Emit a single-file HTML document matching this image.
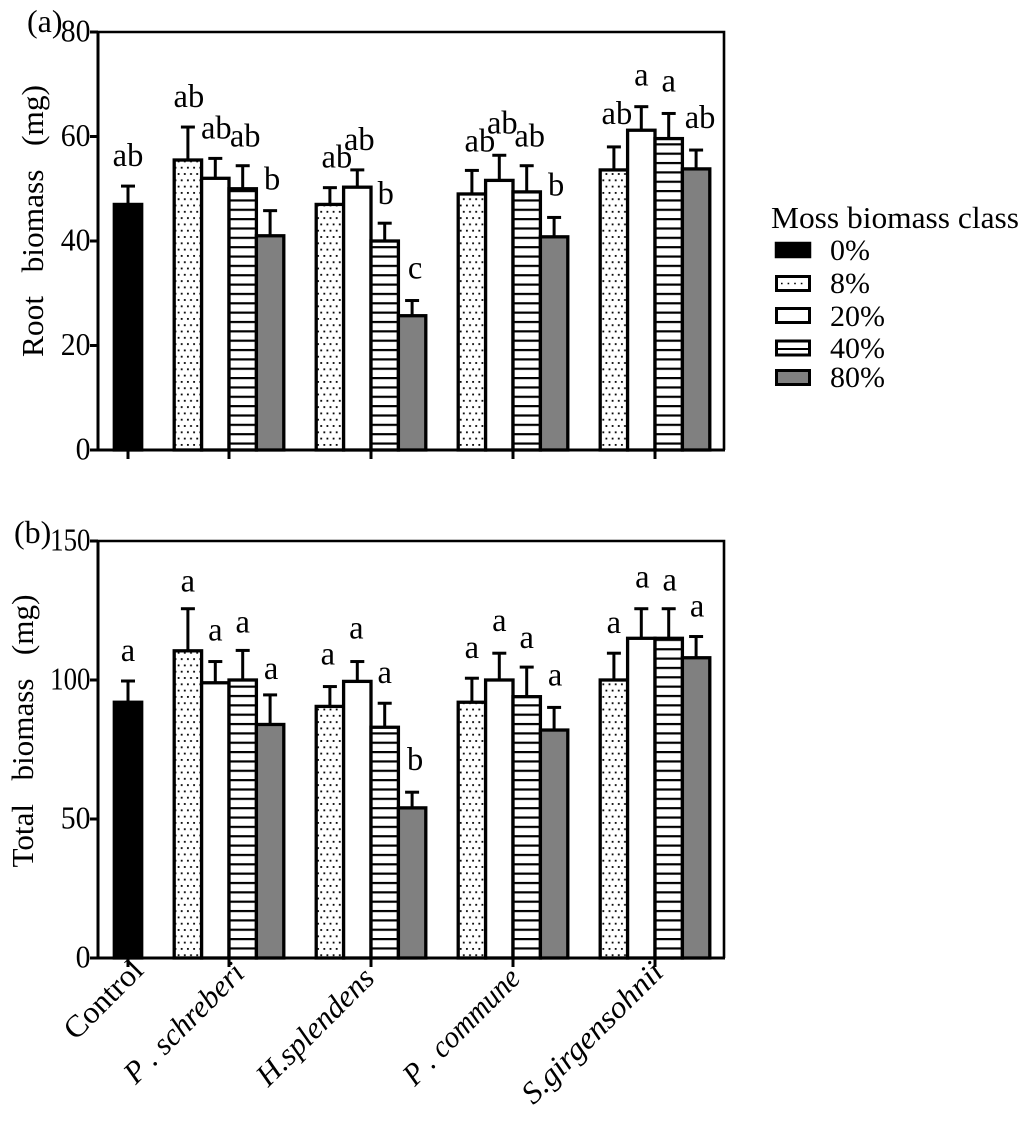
<!DOCTYPE html>
<html lang="en">
<head>
<meta charset="utf-8">
<title>Root and total biomass by moss biomass class</title>
<style>
html,body{margin:0;padding:0;background:#fff;}
svg{display:block;}
text{font-family:"Liberation Serif",serif;fill:#000;white-space:pre;}
</style>
</head>
<body>
<svg id="chart" xmlns="http://www.w3.org/2000/svg" width="1024" height="1123" viewBox="0 0 1024 1123">
  <defs>
    <pattern id="dots" patternUnits="userSpaceOnUse" width="6.2" height="12.6" x="0" y="2">
      <rect width="6.2" height="12.6" fill="#fff"/>
      <rect x="1" y="1" width="1.8" height="1.8" fill="#000"/>
      <rect x="4.1" y="7.3" width="1.8" height="1.8" fill="#000"/>
    </pattern>
    <pattern id="hatch" patternUnits="userSpaceOnUse" width="10" height="9.35" x="0" y="3">
      <rect width="10" height="9.35" fill="#fff"/>
      <rect y="0" width="10" height="2.2" fill="#000"/>
    </pattern>
  </defs>
  <g id="layer"></g>
  <g>
    <text x="771" y="228" font-size="31" textLength="248" lengthAdjust="spacingAndGlyphs">Moss biomass class</text>
    <rect x="776" y="243" width="34" height="14" fill="#000" stroke="#000" stroke-width="2.5"/>
    <text x="830" y="260" font-size="30">0%</text>
    <rect x="776.5" y="276.5" width="33" height="14" fill="#fff" stroke="#000" stroke-width="3"/>
    <line x1="781" y1="283.5" x2="806" y2="283.5" stroke="#000" stroke-width="1.6" stroke-dasharray="1.6 5"/>
    <text x="830" y="293" font-size="30">8%</text>
    <rect x="776.5" y="308.5" width="33" height="14" fill="#fff" stroke="#000" stroke-width="3"/>
    <text x="830" y="326" font-size="30">20%</text>
    <rect x="776.5" y="341" width="33" height="14" fill="#fff" stroke="#000" stroke-width="3"/>
    <line x1="776" y1="349" x2="810" y2="349" stroke="#000" stroke-width="2"/>
    <text x="830" y="358" font-size="30">40%</text>
    <rect x="776.5" y="370.5" width="33" height="14" fill="#808080" stroke="#000" stroke-width="3"/>
    <text x="830" y="387" font-size="30">80%</text>
  </g>
</svg>
<script>
// Categories and classes
const categories = ["Control", "P . schreberi", "H.splendens", "P . commune", "S.girgensohnii"];
const mossClasses = ["8%", "20%", "40%", "80%"];

// Panel (a): root biomass, mg
const rootControlMean = [47];
const rootControlUpper = [50.7];
const rootMeans = [
  [55.5, 52, 50, 41],
  [47, 50.3, 40, 25.7],
  [49, 51.6, 49.4, 40.8],
  [53.6, 61.2, 59.6, 53.8]
];
const rootUppers = [
  [62, 56, 54.6, 46],
  [50.4, 53.8, 43.6, 28.8],
  [53.7, 56.6, 54.6, 44.7],
  [58.2, 65.9, 64.6, 57.6]
];
const rootControlLetter = ["ab"];
const rootLetters = [
  ["ab", "ab", "ab", "b"],
  ["ab", "ab", "b", "c"],
  ["ab", "ab", "ab", "b"],
  ["ab", "a", "a", "ab"]
];
const rootTicks = [0, 20, 40, 60, 80];

// Panel (b): total biomass, mg
const totalControlMean = [92];
const totalControlUpper = [100];
const totalMeans = [
  [110.5, 99, 100, 84],
  [90.5, 99.5, 83, 54],
  [92, 100, 94, 82],
  [100, 115, 115, 108]
];
const totalUppers = [
  [126, 107, 111, 95],
  [98, 107, 92, 60],
  [101, 110, 105, 90.5],
  [110, 126, 126, 116]
];
const totalControlLetter = ["a"];
const totalLetters = [
  ["a", "a", "a", "a"],
  ["a", "a", "a", "b"],
  ["a", "a", "a", "a"],
  ["a", "a", "a", "a"]
];
const totalTicks = [0, 50, 100, 150];

// Layout
const NS = "http://www.w3.org/2000/svg";
const layer = document.getElementById("layer");
const plotLeft = 98, plotRight = 724, barWidth = 27.4;
const classFills = ["url(#dots)", "#fff", "url(#hatch)", "#808080"];

// Manual letter placement tweaks (pixels relative to error-bar cap and bar centre)
const rootNudgeX = [[1, 1, 2.5, 2], [7, 2, 1, 3], [8, 3, 3, 2], [3, 0, 0, 4]];
const rootLift = [[19, 19, 18, 20], [19, 19, 18, 21], [18, 21, 18, 21], [22, 20, 21, 21]];
const totalNudgeX = [[0, 0, 0, 1], [-2, -1, 0, 3], [0, 0, 0, 1], [0, 1, 1, 1]];
const totalLift = [[16, 20, 17, 15], [21, 22, 19, 21], [19, 21, 18, 21], [19, 20, 17, 19]];

// Manual category label tweaks (offset from tick, horizontal stretch)
const labelShiftX = [17, 17, 5, 9, 10];
const labelShiftY = [14, 17, 22, 22, 16];
const labelStretch = [1.035, 0.99, 1.0, 0.945, 1.04];

function categoryX(i) { return i === 0 ? 128 : 229 + (i - 1) * 142; }
function barX(group, cls) { return categoryX(group + 1) + (cls - 1.5) * barWidth; }

function make(tag, attrs, parent) {
  const el = document.createElementNS(NS, tag);
  for (const k in attrs) el.setAttribute(k, attrs[k]);
  parent.appendChild(el);
  return el;
}

function drawBar(g, cx, top, upper, bottom, fill, letter, lift, nudge) {
  const err = make("line", { x1: cx, x2: cx, y1: top, y2: upper, stroke: "#000", "stroke-width": 3 }, g);
  
  
  const cap = make("line", { x1: cx - 7, x2: cx + 7, y1: upper + 1, y2: upper + 1, stroke: "#000", "stroke-width": 3 }, g);
  
  
  const bar = make("rect", { x: cx - barWidth / 2, y: top, width: barWidth, height: bottom - top, fill: fill, stroke: "#000", "stroke-width": 3.3 }, g);
  
  
  const t = make("text", { x: cx + nudge, y: upper - lift, "font-size": 32.5, "text-anchor": "middle" }, g);
  t.textContent = letter;
  
  
}

function drawPanel(name, yBottom, yTop, maxVal, ticks, ctrlMean, ctrlUpper, ctrlLetter, means, uppers, letters, lifts, nudges, title, titleX, titleY, titleLen, tag, tagX, tagY, showLabels) {
  const y = v => yBottom - (v / maxVal) * (yBottom - yTop);
  const g = make("g", {}, layer);
  
  

  const frame = make("path", { d: `M${plotLeft} ${yTop}H${plotRight}V${yBottom}`, fill: "none", stroke: "#000", "stroke-width": 2.6 }, g);
  
  

  drawBar(g, categoryX(0), y(ctrlMean[0]), y(ctrlUpper[0]), yBottom, "#000", ctrlLetter[0], 19, 0);
  means.forEach((row, gi) => row.forEach((v, ci) => {
    drawBar(g, barX(gi, ci), y(v), y(uppers[gi][ci]), yBottom, classFills[ci], letters[gi][ci], lifts[gi][ci], nudges[gi][ci]);
  }));

  const yAxis = make("line", { x1: plotLeft, x2: plotLeft, y1: yTop - 1, y2: yBottom + 1.5, stroke: "#000", "stroke-width": 3 }, g);
  
  
  const xAxis = make("line", { x1: 90, x2: plotRight + 1, y1: yBottom, y2: yBottom, stroke: "#000", "stroke-width": 3 }, g);
  
  

  ticks.forEach(v => {
    const tk = make("line", { x1: 90, x2: plotLeft, y1: y(v), y2: y(v), stroke: "#000", "stroke-width": 3 }, g);
    
    
    const squeeze = String(v).length > 2 ? 0.84 : 0.93;
    const lb = make("text", { x: 0, y: 0, "font-size": 32, "text-anchor": "end", transform: `translate(90.5 ${y(v) + 9.5}) scale(${squeeze} 1)` }, g);
    lb.textContent = String(v);
    
    
  });

  categories.forEach((c, i) => {
    const x = categoryX(i);
    const tk = make("line", { x1: x, x2: x, y1: yBottom, y2: yBottom + 9, stroke: "#000", "stroke-width": 3 }, g);
    
    
    if (showLabels) {
      const lb = make("text", {
        x: 0, y: 0, "font-size": 31, "text-anchor": "end",
        "font-style": i === 0 ? "normal" : "italic",
        transform: `translate(${x + labelShiftX[i]} ${yBottom + labelShiftY[i]}) rotate(-45) scale(${labelStretch[i]} 1)`
      }, g);
      lb.textContent = c;
      
      
    }
  });

  const ttl = make("text", { x: 0, y: 0, "font-size": 31, "text-anchor": "middle", textLength: titleLen, lengthAdjust: "spacingAndGlyphs", transform: `translate(${titleX} ${titleY}) rotate(-90)` }, g);
  ttl.textContent = title;
  
  

  const tg = make("text", { x: tagX, y: tagY, "font-size": 32 }, g);
  tg.textContent = tag;
  
  
}

drawPanel("root-biomass-panel", 450, 32, 80, rootTicks, rootControlMean, rootControlUpper, rootControlLetter,
  rootMeans, rootUppers, rootLetters, rootLift, rootNudgeX, "Root   biomass   (mg)", 43, 221, 272, "(a)", 27, 32, false);
drawPanel("total-biomass-panel", 958, 541, 150, totalTicks, totalControlMean, totalControlUpper, totalControlLetter,
  totalMeans, totalUppers, totalLetters, totalLift, totalNudgeX, "Total   biomass   (mg)", 33, 731, 273, "(b)", 14, 543, true);
</script>
</body>
</html>
